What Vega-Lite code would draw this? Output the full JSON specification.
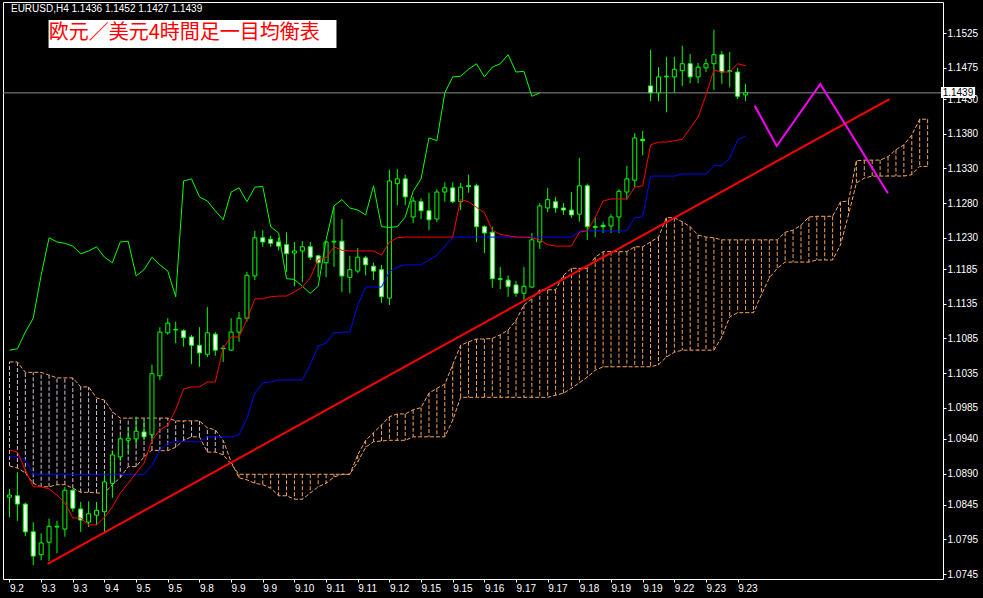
{
"$schema":"https://vega.github.io/schema/vega-lite/v6.json",
"width":940,"height":577,
"autosize":{"type":"none"},
"padding":{"left":3,"top":2,"right":40,"bottom":19},
"background":"#000000",
"config":{"view":{"stroke":"#FFFFFF","strokeWidth":1},"axis":{"labelOverlap":false,"labelBound":false,"labelFlush":false,"grid":false,"domain":false,"title":null}},
"resolve":{"axis":{"x":"independent","y":"independent"}},
"datasets":{
"candles":[
{"i":0,"o":1.0856,"h":1.0868,"l":1.0827,"c":1.0859},
{"i":1,"o":1.0858,"h":1.0892,"l":1.0822,"c":1.0846},
{"i":2,"o":1.0846,"h":1.0848,"l":1.0800,"c":1.0806},
{"i":3,"o":1.0806,"h":1.0820,"l":1.0758,"c":1.0771},
{"i":4,"o":1.0773,"h":1.0804,"l":1.0765,"c":1.0790},
{"i":5,"o":1.0791,"h":1.0825,"l":1.0764,"c":1.0814},
{"i":6,"o":1.0813,"h":1.0822,"l":1.0775,"c":1.0814},
{"i":7,"o":1.0810,"h":1.0871,"l":1.0799,"c":1.0866},
{"i":8,"o":1.0866,"h":1.0868,"l":1.0835,"c":1.0840},
{"i":9,"o":1.0839,"h":1.0849,"l":1.0806,"c":1.0823},
{"i":10,"o":1.0820,"h":1.0850,"l":1.0813,"c":1.0832},
{"i":11,"o":1.0830,"h":1.0849,"l":1.0816,"c":1.0837},
{"i":12,"o":1.0835,"h":1.0891,"l":1.0806,"c":1.0878},
{"i":13,"o":1.0876,"h":1.0923,"l":1.0855,"c":1.0917},
{"i":14,"o":1.0914,"h":1.0944,"l":1.0908,"c":1.0940},
{"i":15,"o":1.0938,"h":1.0957,"l":1.0920,"c":1.0941},
{"i":16,"o":1.0940,"h":1.0972,"l":1.0931,"c":1.0951},
{"i":17,"o":1.0950,"h":1.0967,"l":1.0938,"c":1.0943},
{"i":18,"o":1.0946,"h":1.1047,"l":1.0938,"c":1.1034},
{"i":19,"o":1.1031,"h":1.1101,"l":1.1025,"c":1.1094},
{"i":20,"o":1.1093,"h":1.1114,"l":1.1090,"c":1.1107},
{"i":21,"o":1.1097,"h":1.1109,"l":1.1078,"c":1.1098},
{"i":22,"o":1.1096,"h":1.1098,"l":1.1073,"c":1.1086},
{"i":23,"o":1.1087,"h":1.1090,"l":1.1048,"c":1.1075},
{"i":24,"o":1.1075,"h":1.1101,"l":1.1044,"c":1.1064},
{"i":25,"o":1.1062,"h":1.1130,"l":1.1058,"c":1.1093},
{"i":26,"o":1.1091,"h":1.1094,"l":1.1060,"c":1.1068},
{"i":27,"o":1.1071,"h":1.1075,"l":1.1051,"c":1.1070},
{"i":28,"o":1.1068,"h":1.1114,"l":1.1067,"c":1.1094},
{"i":29,"o":1.1094,"h":1.1123,"l":1.1080,"c":1.1114},
{"i":30,"o":1.1114,"h":1.1181,"l":1.1109,"c":1.1176},
{"i":31,"o":1.1175,"h":1.1240,"l":1.1169,"c":1.1230},
{"i":32,"o":1.1230,"h":1.1241,"l":1.1217,"c":1.1224},
{"i":33,"o":1.1228,"h":1.1233,"l":1.1217,"c":1.1222},
{"i":34,"o":1.1224,"h":1.1230,"l":1.1212,"c":1.1218},
{"i":35,"o":1.1220,"h":1.1238,"l":1.1181,"c":1.1207},
{"i":36,"o":1.1208,"h":1.1224,"l":1.1160,"c":1.1211},
{"i":37,"o":1.1211,"h":1.1225,"l":1.1166,"c":1.1217},
{"i":38,"o":1.1217,"h":1.1224,"l":1.1198,"c":1.1202},
{"i":39,"o":1.1204,"h":1.1205,"l":1.1173,"c":1.1194},
{"i":40,"o":1.1194,"h":1.1225,"l":1.1173,"c":1.1224},
{"i":41,"o":1.1224,"h":1.1274,"l":1.1188,"c":1.1225},
{"i":42,"o":1.1225,"h":1.1257,"l":1.1152,"c":1.1175},
{"i":43,"o":1.1173,"h":1.1204,"l":1.1150,"c":1.1184},
{"i":44,"o":1.1182,"h":1.1215,"l":1.1179,"c":1.1202},
{"i":45,"o":1.1201,"h":1.1204,"l":1.1176,"c":1.1191},
{"i":46,"o":1.1189,"h":1.1194,"l":1.1169,"c":1.1182},
{"i":47,"o":1.1184,"h":1.1191,"l":1.1136,"c":1.1145},
{"i":48,"o":1.1143,"h":1.1328,"l":1.1133,"c":1.1312},
{"i":49,"o":1.1308,"h":1.1329,"l":1.1277,"c":1.1315},
{"i":50,"o":1.1315,"h":1.1321,"l":1.1277,"c":1.1289},
{"i":51,"o":1.1260,"h":1.1289,"l":1.1251,"c":1.1283},
{"i":52,"o":1.1282,"h":1.1287,"l":1.1257,"c":1.1269},
{"i":53,"o":1.1269,"h":1.1295,"l":1.1241,"c":1.1256},
{"i":54,"o":1.1257,"h":1.1300,"l":1.1253,"c":1.1296},
{"i":55,"o":1.1296,"h":1.1310,"l":1.1282,"c":1.1302},
{"i":56,"o":1.1302,"h":1.1310,"l":1.1280,"c":1.1282},
{"i":57,"o":1.1282,"h":1.1309,"l":1.1270,"c":1.1303},
{"i":58,"o":1.1305,"h":1.1321,"l":1.1295,"c":1.1304},
{"i":59,"o":1.1305,"h":1.1308,"l":1.1224,"c":1.1246},
{"i":60,"o":1.1246,"h":1.1248,"l":1.1208,"c":1.1237},
{"i":61,"o":1.1238,"h":1.1246,"l":1.1158,"c":1.1171},
{"i":62,"o":1.1171,"h":1.1188,"l":1.1156,"c":1.1170},
{"i":63,"o":1.1169,"h":1.1176,"l":1.1145,"c":1.1160},
{"i":64,"o":1.1162,"h":1.1168,"l":1.1145,"c":1.1150},
{"i":65,"o":1.1150,"h":1.1188,"l":1.1140,"c":1.1160},
{"i":66,"o":1.1159,"h":1.1237,"l":1.1158,"c":1.1227},
{"i":67,"o":1.1224,"h":1.1280,"l":1.1214,"c":1.1276},
{"i":68,"o":1.1273,"h":1.1302,"l":1.1267,"c":1.1285},
{"i":69,"o":1.1282,"h":1.1289,"l":1.1266,"c":1.1273},
{"i":70,"o":1.1273,"h":1.1280,"l":1.1263,"c":1.1270},
{"i":71,"o":1.1270,"h":1.1296,"l":1.1259,"c":1.1263},
{"i":72,"o":1.1264,"h":1.1345,"l":1.1253,"c":1.1305},
{"i":73,"o":1.1305,"h":1.1308,"l":1.1227,"c":1.1246},
{"i":74,"o":1.1246,"h":1.1259,"l":1.1231,"c":1.1245},
{"i":75,"o":1.1248,"h":1.1253,"l":1.1237,"c":1.1246},
{"i":76,"o":1.1247,"h":1.1264,"l":1.1237,"c":1.1260},
{"i":77,"o":1.1260,"h":1.1300,"l":1.1237,"c":1.1297},
{"i":78,"o":1.1296,"h":1.1334,"l":1.1285,"c":1.1315},
{"i":79,"o":1.1313,"h":1.1381,"l":1.1303,"c":1.1374},
{"i":80,"o":1.1372,"h":1.1384,"l":1.1349,"c":1.1370},
{"i":81,"o":1.1449,"h":1.1501,"l":1.1427,"c":1.1439},
{"i":82,"o":1.1439,"h":1.1476,"l":1.1427,"c":1.1462},
{"i":83,"o":1.1462,"h":1.1491,"l":1.1411,"c":1.1463},
{"i":84,"o":1.1462,"h":1.1491,"l":1.1439,"c":1.1473},
{"i":85,"o":1.1471,"h":1.1507,"l":1.1449,"c":1.1481},
{"i":86,"o":1.1481,"h":1.1495,"l":1.1453,"c":1.1462},
{"i":87,"o":1.1462,"h":1.1482,"l":1.1453,"c":1.1476},
{"i":88,"o":1.1475,"h":1.1488,"l":1.1469,"c":1.1481},
{"i":89,"o":1.1481,"h":1.1530,"l":1.1443,"c":1.1494},
{"i":90,"o":1.1494,"h":1.1499,"l":1.1452,"c":1.1469},
{"i":91,"o":1.1471,"h":1.1498,"l":1.1447,"c":1.1470},
{"i":92,"o":1.1469,"h":1.1475,"l":1.1430,"c":1.1434},
{"i":93,"o":1.1436,"h":1.1452,"l":1.1427,"c":1.1439}
],
"ind":[
{"i":0,"t":1.0924,"k":1.0914,"ch":1.1068},
{"i":1,"t":1.0921,"k":1.0914,"ch":1.1070},
{"i":2,"t":1.0895,"k":1.0910,"ch":1.1094},
{"i":3,"t":1.0871,"k":1.0889,"ch":1.1114},
{"i":4,"t":1.0871,"k":1.0889,"ch":1.1176},
{"i":5,"t":1.0868,"k":1.0889,"ch":1.1230},
{"i":6,"t":1.0859,"k":1.0889,"ch":1.1224},
{"i":7,"t":1.0848,"k":1.0889,"ch":1.1222},
{"i":8,"t":1.0826,"k":1.0889,"ch":1.1218},
{"i":9,"t":1.0826,"k":1.0889,"ch":1.1207},
{"i":10,"t":1.0816,"k":1.0889,"ch":1.1211},
{"i":11,"t":1.0816,"k":1.0889,"ch":1.1217},
{"i":12,"t":1.0827,"k":1.0889,"ch":1.1202},
{"i":13,"t":1.0842,"k":1.0889,"ch":1.1194},
{"i":14,"t":1.0862,"k":1.0889,"ch":1.1224},
{"i":15,"t":1.0876,"k":1.0889,"ch":1.1225},
{"i":16,"t":1.0891,"k":1.0889,"ch":1.1175},
{"i":17,"t":1.0905,"k":1.0889,"ch":1.1184},
{"i":18,"t":1.0938,"k":1.0902,"ch":1.1202},
{"i":19,"t":1.0953,"k":1.0924,"ch":1.1191},
{"i":20,"t":1.0960,"k":1.0934,"ch":1.1182},
{"i":21,"t":1.0982,"k":1.0936,"ch":1.1145},
{"i":22,"t":1.1012,"k":1.0936,"ch":1.1312},
{"i":23,"t":1.1015,"k":1.0936,"ch":1.1315},
{"i":24,"t":1.1015,"k":1.0936,"ch":1.1289},
{"i":25,"t":1.1022,"k":1.0943,"ch":1.1283},
{"i":26,"t":1.1022,"k":1.0943,"ch":1.1269},
{"i":27,"t":1.1071,"k":1.0943,"ch":1.1256},
{"i":28,"t":1.1087,"k":1.0943,"ch":1.1296},
{"i":29,"t":1.1087,"k":1.0946,"ch":1.1302},
{"i":30,"t":1.1112,"k":1.0970,"ch":1.1282},
{"i":31,"t":1.1142,"k":1.1006,"ch":1.1303},
{"i":32,"t":1.1142,"k":1.1021,"ch":1.1304},
{"i":33,"t":1.1145,"k":1.1022,"ch":1.1246},
{"i":34,"t":1.1146,"k":1.1025,"ch":1.1237},
{"i":35,"t":1.1146,"k":1.1025,"ch":1.1171},
{"i":36,"t":1.1152,"k":1.1025,"ch":1.1170},
{"i":37,"t":1.1159,"k":1.1025,"ch":1.1160},
{"i":38,"t":1.1172,"k":1.1047,"ch":1.1150},
{"i":39,"t":1.1199,"k":1.1074,"ch":1.1160},
{"i":40,"t":1.1201,"k":1.1078,"ch":1.1227},
{"i":41,"t":1.1217,"k":1.1093,"ch":1.1276},
{"i":42,"t":1.1212,"k":1.1094,"ch":1.1285},
{"i":43,"t":1.1211,"k":1.1094,"ch":1.1273},
{"i":44,"t":1.1211,"k":1.1133,"ch":1.1270},
{"i":45,"t":1.1211,"k":1.1159,"ch":1.1263},
{"i":46,"t":1.1211,"k":1.1159,"ch":1.1305},
{"i":47,"t":1.1205,"k":1.1159,"ch":1.1246},
{"i":48,"t":1.1224,"k":1.1181,"ch":1.1245},
{"i":49,"t":1.1230,"k":1.1188,"ch":1.1246},
{"i":50,"t":1.1231,"k":1.1191,"ch":1.1260},
{"i":51,"t":1.1231,"k":1.1191,"ch":1.1297},
{"i":52,"t":1.1231,"k":1.1191,"ch":1.1315},
{"i":53,"t":1.1231,"k":1.1198,"ch":1.1374},
{"i":54,"t":1.1231,"k":1.1205,"ch":1.1370},
{"i":55,"t":1.1231,"k":1.1218,"ch":1.1439},
{"i":56,"t":1.1231,"k":1.1231,"ch":1.1462},
{"i":57,"t":1.1285,"k":1.1231,"ch":1.1463},
{"i":58,"t":1.1282,"k":1.1231,"ch":1.1473},
{"i":59,"t":1.1274,"k":1.1231,"ch":1.1481},
{"i":60,"t":1.1266,"k":1.1231,"ch":1.1462},
{"i":61,"t":1.1241,"k":1.1231,"ch":1.1476},
{"i":62,"t":1.1235,"k":1.1231,"ch":1.1481},
{"i":63,"t":1.1233,"k":1.1231,"ch":1.1494},
{"i":64,"t":1.1231,"k":1.1231,"ch":1.1469},
{"i":65,"t":1.1231,"k":1.1231,"ch":1.1470},
{"i":66,"t":1.1230,"k":1.1231,"ch":1.1434},
{"i":67,"t":1.1227,"k":1.1231,"ch":1.1439},
{"i":68,"t":1.1220,"k":1.1231},
{"i":69,"t":1.1218,"k":1.1231},
{"i":70,"t":1.1218,"k":1.1231},
{"i":71,"t":1.1218,"k":1.1231},
{"i":72,"t":1.1238,"k":1.1240},
{"i":73,"t":1.1240,"k":1.1240},
{"i":74,"t":1.1259,"k":1.1240},
{"i":75,"t":1.1283,"k":1.1240},
{"i":76,"t":1.1286,"k":1.1240},
{"i":77,"t":1.1286,"k":1.1240},
{"i":78,"t":1.1286,"k":1.1240},
{"i":79,"t":1.1303,"k":1.1259},
{"i":80,"t":1.1305,"k":1.1260},
{"i":81,"t":1.1364,"k":1.1319},
{"i":82,"t":1.1368,"k":1.1319},
{"i":83,"t":1.1368,"k":1.1319},
{"i":84,"t":1.1370,"k":1.1319},
{"i":85,"t":1.1372,"k":1.1322},
{"i":86,"t":1.1388,"k":1.1322},
{"i":87,"t":1.1404,"k":1.1322},
{"i":88,"t":1.1436,"k":1.1322},
{"i":89,"t":1.1472,"k":1.1334},
{"i":90,"t":1.1469,"k":1.1334},
{"i":91,"t":1.1469,"k":1.1345},
{"i":92,"t":1.1481,"k":1.1371},
{"i":93,"t":1.1478,"k":1.1377}
],
"kumo":[
{"i":0,"a":1.0901,"b":1.1051},{"i":1,"a":1.0898,"b":1.1051},{"i":2,"a":1.0891,"b":1.1036},{"i":3,"a":1.0876,"b":1.1036},
{"i":4,"a":1.0871,"b":1.1036},{"i":5,"a":1.0871,"b":1.1032},{"i":6,"a":1.0874,"b":1.1028},{"i":7,"a":1.0874,"b":1.1028},
{"i":8,"a":1.0869,"b":1.1028},{"i":9,"a":1.0863,"b":1.1015},{"i":10,"a":1.0863,"b":1.1015},{"i":11,"a":1.0862,"b":1.0999},
{"i":12,"a":1.0862,"b":1.0996},{"i":13,"a":1.0874,"b":1.0979},{"i":14,"a":1.0884,"b":1.0970},{"i":15,"a":1.0900,"b":1.0970},
{"i":16,"a":1.0900,"b":1.0970},{"i":17,"a":1.0914,"b":1.0970},{"i":18,"a":1.0924,"b":1.0970},{"i":19,"a":1.0923,"b":1.0970},
{"i":20,"a":1.0923,"b":1.0970},{"i":21,"a":1.0928,"b":1.0966},{"i":22,"a":1.0938,"b":1.0966},{"i":23,"a":1.0943,"b":1.0966},
{"i":24,"a":1.0943,"b":1.0966},{"i":25,"a":1.0921,"b":1.0956},{"i":26,"a":1.0921,"b":1.0953},{"i":27,"a":1.0917,"b":1.0938},
{"i":28,"a":1.0904,"b":1.0907},{"i":29,"a":1.0889,"b":1.0884},{"i":30,"a":1.0889,"b":1.0881},{"i":31,"a":1.0889,"b":1.0876},
{"i":32,"a":1.0889,"b":1.0874},{"i":33,"a":1.0889,"b":1.0869},{"i":34,"a":1.0889,"b":1.0858},{"i":35,"a":1.0889,"b":1.0858},
{"i":36,"a":1.0889,"b":1.0853},{"i":37,"a":1.0889,"b":1.0853},{"i":38,"a":1.0889,"b":1.0862},{"i":39,"a":1.0889,"b":1.0871},
{"i":40,"a":1.0889,"b":1.0876},{"i":41,"a":1.0889,"b":1.0885},{"i":42,"a":1.0889,"b":1.0889},{"i":43,"a":1.0889,"b":1.0889},
{"i":44,"a":1.0917,"b":1.0907},{"i":45,"a":1.0938,"b":1.0928},{"i":46,"a":1.0949,"b":1.0936},{"i":47,"a":1.0960,"b":1.0937},
{"i":48,"a":1.0972,"b":1.0938},{"i":49,"a":1.0976,"b":1.0938},{"i":50,"a":1.0976,"b":1.0938},{"i":51,"a":1.0982,"b":1.0943},
{"i":52,"a":1.0985,"b":1.0943},{"i":53,"a":1.1006,"b":1.0943},{"i":54,"a":1.1013,"b":1.0943},{"i":55,"a":1.1019,"b":1.0943},
{"i":56,"a":1.1047,"b":1.0967},{"i":57,"a":1.1075,"b":1.1000},{"i":58,"a":1.1080,"b":1.1000},{"i":59,"a":1.1084,"b":1.1000},
{"i":60,"a":1.1084,"b":1.1000},{"i":61,"a":1.1085,"b":1.1000},{"i":62,"a":1.1090,"b":1.1000},{"i":63,"a":1.1097,"b":1.1000},
{"i":64,"a":1.1111,"b":1.1000},{"i":65,"a":1.1133,"b":1.1000},{"i":66,"a":1.1142,"b":1.1000},{"i":67,"a":1.1155,"b":1.1000},
{"i":68,"a":1.1155,"b":1.1000},{"i":69,"a":1.1155,"b":1.1003},{"i":70,"a":1.1176,"b":1.1006},{"i":71,"a":1.1186,"b":1.1013},
{"i":72,"a":1.1186,"b":1.1021},{"i":73,"a":1.1186,"b":1.1029},{"i":74,"a":1.1202,"b":1.1039},{"i":75,"a":1.1210,"b":1.1044},
{"i":76,"a":1.1210,"b":1.1044},{"i":77,"a":1.1210,"b":1.1044},{"i":78,"a":1.1210,"b":1.1044},{"i":79,"a":1.1217,"b":1.1044},
{"i":80,"a":1.1217,"b":1.1044},{"i":81,"a":1.1224,"b":1.1044},{"i":82,"a":1.1231,"b":1.1047},{"i":83,"a":1.1259,"b":1.1058},
{"i":84,"a":1.1259,"b":1.1065},{"i":85,"a":1.1253,"b":1.1068},{"i":86,"a":1.1246,"b":1.1068},{"i":87,"a":1.1234,"b":1.1068},
{"i":88,"a":1.1231,"b":1.1068},{"i":89,"a":1.1230,"b":1.1068},{"i":90,"a":1.1227,"b":1.1087},{"i":91,"a":1.1227,"b":1.1116},
{"i":92,"a":1.1227,"b":1.1122},{"i":93,"a":1.1227,"b":1.1122},{"i":94,"a":1.1227,"b":1.1122},{"i":95,"a":1.1227,"b":1.1148},
{"i":96,"a":1.1227,"b":1.1172},{"i":97,"a":1.1227,"b":1.1186},{"i":98,"a":1.1238,"b":1.1195},{"i":99,"a":1.1241,"b":1.1195},
{"i":100,"a":1.1248,"b":1.1195},{"i":101,"a":1.1260,"b":1.1195},{"i":102,"a":1.1261,"b":1.1198},{"i":103,"a":1.1261,"b":1.1198},
{"i":104,"a":1.1261,"b":1.1198},{"i":105,"a":1.1282,"b":1.1220},{"i":106,"a":1.1283,"b":1.1263},{"i":107,"a":1.1341,"b":1.1309},
{"i":108,"a":1.1342,"b":1.1316},{"i":109,"a":1.1342,"b":1.1319},{"i":110,"a":1.1342,"b":1.1319},{"i":111,"a":1.1347,"b":1.1319},
{"i":112,"a":1.1357,"b":1.1319},{"i":113,"a":1.1364,"b":1.1319},{"i":114,"a":1.1378,"b":1.1321},{"i":115,"a":1.1401,"b":1.1333},
{"i":116,"a":1.1401,"b":1.1333}
],
"trend":[{"x":4.8125,"p":1.07597},{"x":111.1875,"p":1.14301}],
"zigzag":[{"x":94.15,"p":1.14205},{"x":96.94,"p":1.13624},{"x":102.44,"p":1.14518},{"x":110.98,"p":1.12942}],
"head":[{"x":0.1875,"p":1.15599,"label":"EURUSD,H4  1.1436 1.1452 1.1427 1.1439"}],
"note":[{"x1":4.9375,"x2":41.3125,"tx":4.95,"top":1.1544,"bottom":1.15037,"mid":1.15246,"label":"欧元／美元4時間足一目均衡表"}],
"bid":[{"p":1.1439,"x1":117.6875,"x2":122.0,"tx":117.9,"top":1.14474,"bottom":1.14316,"label":"1.1439"}]
},
"layer":[
{"data":{"name":"kumo"},"mark":{"type":"rule","strokeDash":[4,2],"strokeWidth":1},
 "encoding":{
  "x":{"field":"i","type":"quantitative","scale":{"domain":[-0.1875,117.3125],"nice":false,"zero":false},
   "axis":{"title":null,"orient":"bottom","values":[0,4,8,12,16,20,24,28,32,36,40,44,48,52,56,60,64,68,72,76,80,84,88,92],
    "labelExpr":"['9.2','9.3','9.3','9.4','9.5','9.5','9.8','9.9','9.9','9.10','9.11','9.11','9.12','9.15','9.15','9.16','9.17','9.17','9.18','9.19','9.19','9.22','9.23','9.23'][round(datum.value/4)]",
    "grid":false,"domain":false,"tickSize":3,"tickColor":"#FFFFFF","labelColor":"#FFFFFF","labelAlign":"left","labelBaseline":"top","labelPadding":1,"labelFont":"Liberation Sans","labelFontSize":10,"labelOverlap":false,"labelBound":false,"labelFlush":false}},
  "y":{"field":"a","type":"quantitative","scale":{"domain":[1.0738,1.157],"nice":false,"zero":false},
   "axis":{"title":null,"orient":"right","values":[1.0745,1.0795,1.0845,1.089,1.094,1.0985,1.1035,1.1085,1.1135,1.1185,1.123,1.128,1.133,1.138,1.143,1.1475,1.1525],
    "format":".4f","grid":false,"domain":false,"tickSize":3,"tickColor":"#FFFFFF","labelColor":"#FFFFFF","labelAlign":"left","labelBaseline":"middle","labelPadding":1,"labelFont":"Liberation Sans","labelFontSize":10,"labelOverlap":false,"labelBound":false,"labelFlush":false}},
  "y2":{"field":"b"},
  "color":{"condition":{"test":"datum.b > datum.a","value":"#D8BFD8"},"value":"#F4A460"}}},
{"data":{"name":"kumo"},"mark":{"type":"line","strokeDash":[4,2],"strokeWidth":1,"color":"#F4A460"},
 "encoding":{"x":{"field":"i","type":"quantitative","scale":{"domain":[-0.1875,117.3125],"nice":false,"zero":false},"axis":null},
  "y":{"field":"a","type":"quantitative","scale":{"domain":[1.0738,1.157],"nice":false,"zero":false},"axis":null}}},
{"data":{"name":"kumo"},"mark":{"type":"line","strokeDash":[4,2],"strokeWidth":1,"color":"#F4A460"},
 "encoding":{"x":{"field":"i","type":"quantitative","scale":{"domain":[-0.1875,117.3125],"nice":false,"zero":false},"axis":null},
  "y":{"field":"b","type":"quantitative","scale":{"domain":[1.0738,1.157],"nice":false,"zero":false},"axis":null}}},
{"data":{"name":"bid"},"mark":{"type":"rule","color":"#8C8C8C","strokeWidth":1},
 "encoding":{"y":{"field":"p","type":"quantitative","scale":{"domain":[1.0738,1.157],"nice":false,"zero":false},"axis":null}}},
{"data":{"name":"candles"},"mark":{"type":"rule","color":"#00FF00","strokeWidth":1},
 "encoding":{"x":{"field":"i","type":"quantitative","scale":{"domain":[-0.1875,117.3125],"nice":false,"zero":false},"axis":null},
  "y":{"field":"l","type":"quantitative","scale":{"domain":[1.0738,1.157],"nice":false,"zero":false},"axis":null},
  "y2":{"field":"h"}}},
{"data":{"name":"candles"},"mark":{"type":"bar","orient":"vertical","size":4,"stroke":"#00FF00","strokeWidth":1},
 "encoding":{"x":{"field":"i","type":"quantitative","scale":{"domain":[-0.1875,117.3125],"nice":false,"zero":false},"axis":null},
  "y":{"field":"o","type":"quantitative","scale":{"domain":[1.0738,1.157],"nice":false,"zero":false},"axis":null},
  "y2":{"field":"c"},
  "fill":{"condition":{"test":"datum.c < datum.o","value":"#FFFFFF"},"value":"#000000"}}},
{"data":{"name":"ind"},"mark":{"type":"line","color":"#00FF00","strokeWidth":1},
 "encoding":{"x":{"field":"i","type":"quantitative","scale":{"domain":[-0.1875,117.3125],"nice":false,"zero":false},"axis":null},
  "y":{"field":"ch","type":"quantitative","scale":{"domain":[1.0738,1.157],"nice":false,"zero":false},"axis":null}}},
{"data":{"name":"ind"},"mark":{"type":"line","color":"#0000FF","strokeWidth":1},
 "encoding":{"x":{"field":"i","type":"quantitative","scale":{"domain":[-0.1875,117.3125],"nice":false,"zero":false},"axis":null},
  "y":{"field":"k","type":"quantitative","scale":{"domain":[1.0738,1.157],"nice":false,"zero":false},"axis":null}}},
{"data":{"name":"ind"},"mark":{"type":"line","color":"#FF0000","strokeWidth":1},
 "encoding":{"x":{"field":"i","type":"quantitative","scale":{"domain":[-0.1875,117.3125],"nice":false,"zero":false},"axis":null},
  "y":{"field":"t","type":"quantitative","scale":{"domain":[1.0738,1.157],"nice":false,"zero":false},"axis":null}}},
{"data":{"name":"trend"},"mark":{"type":"line","color":"#FF0000","strokeWidth":2},
 "encoding":{"x":{"field":"x","type":"quantitative","scale":{"domain":[-0.1875,117.3125],"nice":false,"zero":false},"axis":null},
  "y":{"field":"p","type":"quantitative","scale":{"domain":[1.0738,1.157],"nice":false,"zero":false},"axis":null}}},
{"data":{"name":"zigzag"},"mark":{"type":"line","color":"#FF00FF","strokeWidth":2},
 "encoding":{"x":{"field":"x","type":"quantitative","scale":{"domain":[-0.1875,117.3125],"nice":false,"zero":false},"axis":null},
  "y":{"field":"p","type":"quantitative","scale":{"domain":[1.0738,1.157],"nice":false,"zero":false},"axis":null}}},
{"data":{"name":"head"},"mark":{"type":"text","color":"#FFFFFF","font":"Liberation Sans","fontSize":10,"align":"left","baseline":"middle"},
 "encoding":{"x":{"field":"x","type":"quantitative","scale":{"domain":[-0.1875,117.3125],"nice":false,"zero":false},"axis":null},
  "y":{"field":"p","type":"quantitative","scale":{"domain":[1.0738,1.157],"nice":false,"zero":false},"axis":null},
  "text":{"field":"label"}}},
{"data":{"name":"note"},"mark":{"type":"rect","color":"#FFFFFF"},
 "encoding":{"x":{"field":"x1","type":"quantitative","scale":{"domain":[-0.1875,117.3125],"nice":false,"zero":false},"axis":null},"x2":{"field":"x2"},
  "y":{"field":"top","type":"quantitative","scale":{"domain":[1.0738,1.157],"nice":false,"zero":false},"axis":null},"y2":{"field":"bottom"}}},
{"data":{"name":"note"},"mark":{"type":"text","color":"#FF0000","font":"Noto Sans CJK JP","fontSize":20,"align":"left","baseline":"middle"},
 "encoding":{"x":{"field":"tx","type":"quantitative","scale":{"domain":[-0.1875,117.3125],"nice":false,"zero":false},"axis":null},
  "y":{"field":"mid","type":"quantitative","scale":{"domain":[1.0738,1.157],"nice":false,"zero":false},"axis":null},
  "text":{"field":"label"}}},
{"data":{"name":"bid"},"mark":{"type":"rect","color":"#FFFFFF"},
 "encoding":{"x":{"field":"x1","type":"quantitative","scale":{"domain":[-0.1875,117.3125],"nice":false,"zero":false},"axis":null},"x2":{"field":"x2"},
  "y":{"field":"top","type":"quantitative","scale":{"domain":[1.0738,1.157],"nice":false,"zero":false},"axis":null},"y2":{"field":"bottom"}}},
{"data":{"name":"bid"},"mark":{"type":"text","color":"#000000","font":"Liberation Sans","fontSize":10,"align":"left","baseline":"middle"},
 "encoding":{"x":{"field":"tx","type":"quantitative","scale":{"domain":[-0.1875,117.3125],"nice":false,"zero":false},"axis":null},
  "y":{"field":"p","type":"quantitative","scale":{"domain":[1.0738,1.157],"nice":false,"zero":false},"axis":null},
  "text":{"field":"label"}}}
]
}
